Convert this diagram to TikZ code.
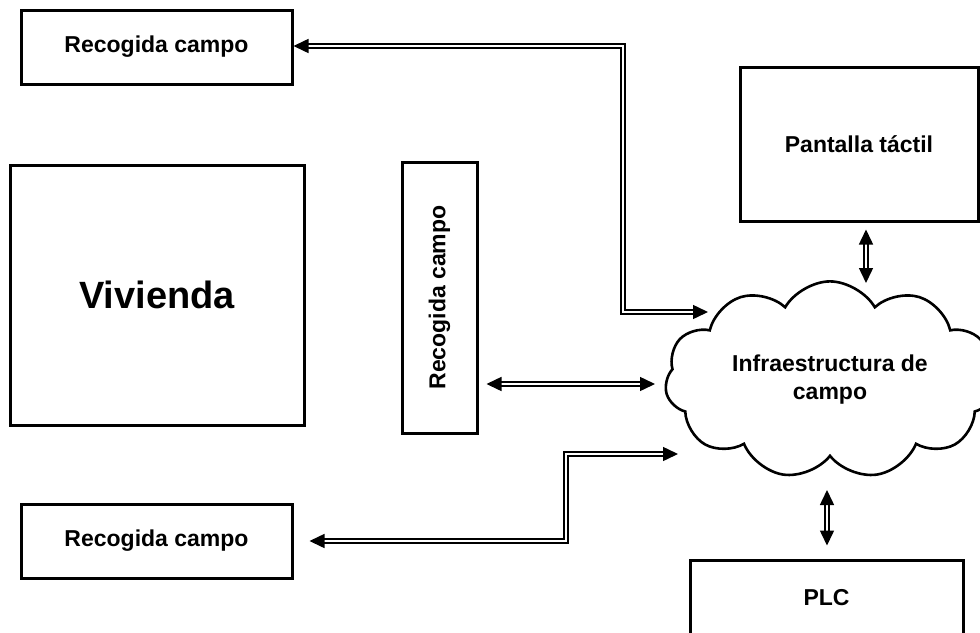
\documentclass[tikz,border=0pt]{standalone}
\usepackage{fontspec}
\setmainfont{Liberation Sans}
\usetikzlibrary{arrows.meta, shapes.symbols}

\tikzset{
  box/.style={draw, line width=1.5pt, font=\bfseries\fontsize{11.5}{14}\selectfont},
  link/.style={<->, draw, line width=0.75pt, double=white, double distance=1.1pt},
}

\begin{document}
\begin{tikzpicture}[x=0.5pt, y=-0.5pt, >={Triangle[length=7.5pt, width=7pt]}]
    \useasboundingbox (0,0) rectangle (980,632);
    \clip (0,0) rectangle (980,632);
    \fill[white] (0,0) rectangle (980,632);

    \node[box, minimum width=135.5pt, minimum height=37pt] (rc1) at (156.5,47) {Recogida campo};
    \node[box, minimum width=147pt, minimum height=130pt, font=\bfseries\fontsize{19}{23}\selectfont] (viv) at (157,295) {Vivienda};
    \node[box, minimum width=37.5pt, minimum height=135.5pt] (rc2) at (439.5,297.5) {};
    \node[font=\bfseries\fontsize{11.5}{14}\selectfont, rotate=90] (rc2t) at (rc2) {Recogida campo};
    \node[box, minimum width=135.5pt, minimum height=37pt] (rc3) at (156.5,541) {Recogida campo};
    \node[box, minimum width=119pt, minimum height=77pt] (pt) at (859,144) {Pantalla táctil};
    \node[box, minimum width=136.5pt, minimum height=38pt] (plc) at (826.5,598) {PLC};
    \node[box, line width=1.3pt, cloud, cloud puffs=11, cloud puff arc=120, aspect=1.9,
          minimum width=165pt, minimum height=89pt, align=center] (cloud) at (830,380)
          {Infraestructura de\\campo};

    % connectors
    \coordinate (k1) at (623,312);
    \coordinate (t1) at (708,312);
    \coordinate (t2) at (655,384);
    \coordinate (k3) at (566,454);
    \coordinate (t3) at (678,454);
    \coordinate (t4) at (866,283);
    \coordinate (t5) at (827,490);

    \draw[link] (rc1.east |- 0,46) -| (k1) -- (t1);
    \draw[link, shorten <=4pt] (rc2.east |- t2) -- (t2);
    \draw[link, shorten <=8pt] (rc3.east) -| (k3) -- (t3);
    \draw[link, shorten <=3.5pt] (pt.south -| t4) -- (t4);
    \draw[link, shorten >=6.5pt] (t5) -- (t5 |- plc.north);
\end{tikzpicture}
\end{document}
